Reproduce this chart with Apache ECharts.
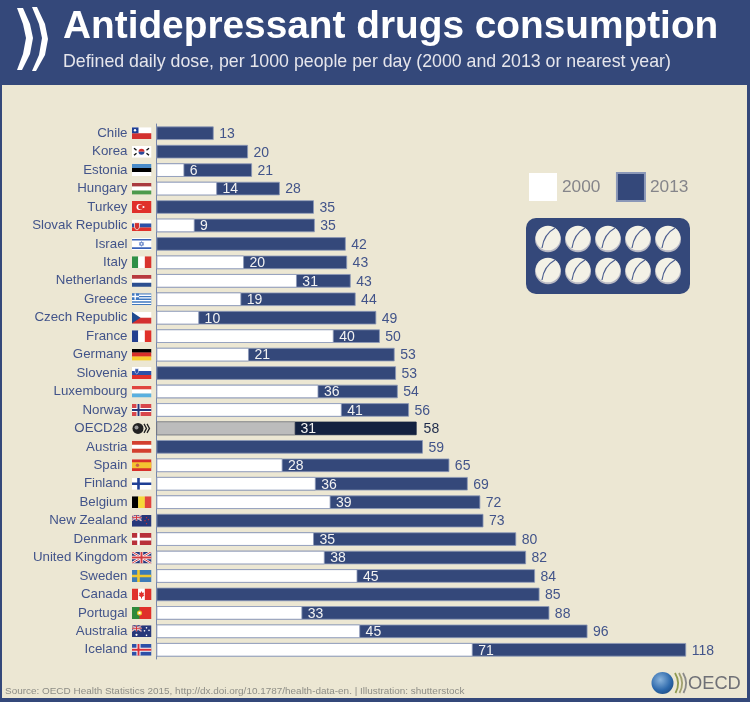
<!DOCTYPE html>
<html><head><meta charset="utf-8">
<style>html,body{margin:0;padding:0;background:#34487a}#c{width:750px;height:702px}</style>
<script src="https://cdn.jsdelivr.net/npm/echarts@6/dist/echarts.min.js"></script></head>
<body><div id="c"></div>
<script>
const categories=["Chile","Korea","Estonia","Hungary","Turkey","Slovak Republic","Israel","Italy","Netherlands","Greece","Czech Republic","France","Germany","Slovenia","Luxembourg","Norway","OECD28","Austria","Spain","Finland","Belgium","New Zealand","Denmark","United Kingdom","Sweden","Canada","Portugal","Australia","Iceland"];
const values2000=[null,null,6.2,13.5,null,8.5,null,19.5,31.3,18.9,9.5,39.5,20.6,null,36.1,41.3,30.9,null,28.1,35.5,38.8,null,35.1,37.5,44.8,null,32.5,45.4,70.5];
const values2013=[12.75,20.4,21.3,27.5,35.1,35.3,42.2,42.5,43.3,44.4,49,49.8,53.1,53.4,53.8,56.3,58,59.4,65.3,69.4,72.2,72.9,80.2,82.4,84.4,85.4,87.6,96.1,118.1];

const NAVY='#34487a',PANEL='#ece7d3',EDGE='#8b98b8',TXT='#42548a';
const hs=(...c)=>c.map((k,i)=>`<rect y="${12*i/c.length}" width="20" height="${12/c.length+.1}" fill="${k}"/>`).join('');
const vs=(...c)=>c.map((k,i)=>`<rect x="${20*i/c.length}" width="${20/c.length+.1}" height="12" fill="${k}"/>`).join('');
const nordic=(b,o,n)=>`<rect width="20" height="12" fill="${b}"/><path d="M0 6H20M7 0V12" stroke="${o}" stroke-width="${n?4:2.6}"/>`+(n?`<path d="M0 6H20M7 0V12" stroke="${n}" stroke-width="2"/>`:'');
const uk=`<rect width="20" height="12" fill="#27377a"/><path d="M0 0L20 12M20 0L0 12" stroke="#fff" stroke-width="2.4"/><path d="M0 0L20 12M20 0L0 12" stroke="#d23a3f" stroke-width="1"/><path d="M10 0V12M0 6H20" stroke="#fff" stroke-width="3.4"/><path d="M10 0V12M0 6H20" stroke="#d23a3f" stroke-width="2"/>`;
const stars=(p)=>p.map(a=>`<circle cx="${a[0]}" cy="${a[1]}" r="${a[2]||.8}" fill="${a[3]||'#fff'}"/>`).join('');
const oz=(s)=>`<rect width="20" height="12" fill="#27377a"/><g transform="scale(.5)">${uk}</g>`+s;
const flags={
"Chile":hs('#fff','#d3302f')+`<rect width="7" height="6" fill="#1f3f95"/><circle cx="3.5" cy="3" r="1.2" fill="#fff"/>`,
"Korea":`<rect width="20" height="12" fill="#fff"/><path d="M7 6a3 3 0 0 1 6 0z" fill="#d3302f"/><path d="M7 6a3 3 0 0 0 6 0z" fill="#2a4a9a"/><path d="M2.5 2.5L5 4.5M15 7.5L17.5 9.5M15 4.5L17.5 2.5M2.5 9.5L5 7.5" stroke="#111" stroke-width="1.4"/>`,
"Estonia":hs('#4a8bc8','#000','#fff'),
"Hungary":hs('#a93a3f','#fff','#4c9a4c'),
"Turkey":`<rect width="20" height="12" fill="#e0302a"/><circle cx="8" cy="6" r="3" fill="#fff"/><circle cx="9" cy="6" r="2.4" fill="#e0302a"/><circle cx="12" cy="6" r="1" fill="#fff"/>`,
"Slovak Republic":hs('#fff','#2c50a8','#e0302a')+`<path d="M3 3.2H8V7.5Q8 9.5 5.5 10.5 3 9.5 3 7.5z" fill="#d3302f" stroke="#fff" stroke-width=".7"/>`,
"Israel":`<rect width="20" height="12" fill="#fff"/><rect y="1" width="20" height="1.7" fill="#3a62b8"/><rect y="9.3" width="20" height="1.7" fill="#3a62b8"/><path d="M10 3.6L12.2 7.2H7.8zM10 8.4L7.8 4.8H12.2z" fill="none" stroke="#3a62b8" stroke-width=".6"/>`,
"Italy":vs('#2f9048','#fff','#d8342f'),
"Netherlands":hs('#b83a3f','#fff','#2c4f90'),
"Greece":`<rect width="20" height="12" fill="#3f78c0"/><path d="M0 2H20M0 4.7H20M0 7.4H20M0 10.1H20" stroke="#fff" stroke-width="1.3"/><rect width="7.5" height="6.5" fill="#3f78c0"/><path d="M3.7 0V6.5M0 3.2H7.5" stroke="#fff" stroke-width="1.4"/>`,
"Czech Republic":hs('#fff','#d3302f')+`<path d="M0 0L9 6L0 12z" fill="#1f4a90"/>`,
"France":vs('#25408f','#fff','#e0302a'),
"Germany":hs('#000','#d8302a','#f8ce2e'),
"Slovenia":hs('#fff','#2c50a8','#e0302a')+`<path d="M3.5 1.8H7V4.5Q7 6 5.25 6.8 3.5 6 3.5 4.5z" fill="#2c50a8" stroke="#fff" stroke-width=".5"/>`,
"Luxembourg":hs('#e0453f','#fff','#5ab0e0'),
"Norway":nordic('#d8474a','#fff','#27377a'),
"OECD28":`<circle cx="6.5" cy="6" r="5.5" fill="#222"/><circle cx="5" cy="5" r="2" fill="#999"/><path d="M12.5 1.5L15 6L12.5 10.5M15.5 1.5L18 6L15.5 10.5" fill="none" stroke="#222" stroke-width="1.3"/>`,
"Austria":hs('#d3402f','#fff','#d3402f'),
"Spain":`<rect width="20" height="12" fill="#d8302a"/><rect y="3" width="20" height="6" fill="#f4c430"/><circle cx="6" cy="6" r="1.7" fill="#c8604a"/>`,
"Finland":nordic('#fff','#1f3f95'),
"Belgium":vs('#000','#f5d83a','#e0453f'),
"New Zealand":oz(stars([[15,3,.7,'#d3302f'],[17,5,.7,'#d3302f'],[13.5,6,.7,'#d3302f'],[15,9,.7,'#d3302f']])),
"Denmark":nordic('#b8303a','#fff'),
"United Kingdom":uk,
"Sweden":nordic('#3c7cb8','#f0c82e'),
"Canada":vs('#e0302a','#fff','#e0302a')+`<path d="M10 2.5L11 4.5L12.5 4L12 6.5L13 7L10.5 8.5V10H9.5V8.5L7 7L8 6.5L7.5 4L9 4.5z" fill="#e0302a"/>`,
"Portugal":`<rect width="20" height="12" fill="#e0302a"/><rect width="8" height="12" fill="#2f8a3a"/><circle cx="8" cy="6" r="2.5" fill="#f0c82e"/><circle cx="8" cy="6" r="1.2" fill="#fff"/>`,
"Australia":oz(stars([[15,2.5],[17.5,5],[13,5.5],[15,10],[5,9.5,1.1]])),
"Iceland":`<rect width="20" height="12" fill="#2c50a8"/><path d="M0 6H20M7 0V12" stroke="#fff" stroke-width="4"/><path d="M0 6H20M7 0V12" stroke="#d8303a" stroke-width="2"/>`
};
const rich={n:{color:TXT,fontFamily:'Liberation Sans',fontSize:13.3,padding:[0,4,0,0]}};
categories.forEach((c,i)=>{
  const svg=`<svg xmlns="http://www.w3.org/2000/svg" width="60" height="36" viewBox="0 0 20 12">${flags[c]}</svg>`;
  rich['f'+i]={width:20,height:12,backgroundColor:{image:'data:image/svg+xml;charset=utf-8,'+encodeURIComponent(svg)}};
});
const OECD='OECD28';
const lab=(color,extra)=>Object.assign({show:true,position:'right',distance:5.5,offset:[0,1],color,fontFamily:'Liberation Sans',fontSize:14,formatter:p=>Math.round(p.value)},extra||{});
const pills=[];
const curve=(x1,y1,cx,cy,x2,y2,stroke,w)=>({type:'bezierCurve',shape:{x1,y1,x2,y2,cpx1:cx,cpy1:cy},style:{fill:null,stroke,lineWidth:w}});
[238,270].forEach(y=>[548,578,608,638,668].forEach(x=>{
  pills.push({type:'circle',shape:{cx:x,cy:y+1.3,r:13},style:{fill:'#b9b9c4'}});
  pills.push({type:'circle',shape:{cx:x,cy:y,r:12.3},style:{fill:'#f3f1e6'}});
  pills.push(curve(x-6,y+10,x-4,y-4,x+7,y-10,'#4d5f90',1.2));
}));
const graphic=[
 {type:'rect',z:-10,shape:{x:2,y:85,width:745,height:613},style:{fill:PANEL}},
 {type:'polygon',shape:{points:[[17,8],[23,8],[30,24],[33,38],[30,54],[22,70],[17,70],[23,54],[26,38],[23,24]]},style:{fill:'#fff'}},
 {type:'polygon',shape:{points:[[32,7],[37,7],[45,24],[48,39],[45,55],[36,71],[32,71],[39,55],[42,38],[39,24]]},style:{fill:'#fff'}},
 {type:'rect',shape:{x:526,y:218,width:164,height:76,r:10},style:{fill:NAVY}},
 ...pills,
 {type:'text',style:{x:5,y:686,text:'Source: OECD Health Statistics 2015, http://dx.doi.org/10.1787/health-data-en. | Illustration: shutterstock',fill:'#8d8d86',fontFamily:'Liberation Sans',fontSize:9.95}},
 {type:'circle',shape:{cx:662.5,cy:683,r:11},style:{fill:new echarts.graphic.RadialGradient(.4,.35,.8,[{offset:0,color:'#8ab4dc'},{offset:.6,color:'#2d69ac'},{offset:1,color:'#1a4478'}])}},
 curve(675,673,681,683,675.5,693,'#8f9a50',1.8),
 curve(679,673,685,683,679.5,693,'#a0a070',1.8),
 curve(683,673,689,683,683.5,693,'#8a8a8a',1.8),
 {type:'text',style:{x:688,y:675,text:'OECD',fill:'#6f7076',fontFamily:'Liberation Sans',fontSize:18.3}}
];
const chart=echarts.init(document.getElementById('c'));
chart.setOption({
 animation:false,backgroundColor:NAVY,
 title:{left:58,top:3,text:'Antidepressant drugs consumption',subtext:'Defined daily dose, per 1000 people per day (2000 and 2013 or nearest year)',itemGap:6,
  textStyle:{color:'#fff',fontFamily:'Liberation Sans',fontWeight:'bold',fontSize:38.8},
  subtextStyle:{color:'#e6e6ec',fontFamily:'Liberation Sans',fontSize:17.75}},
 legend:{left:524,top:167,itemWidth:28,itemHeight:28,itemGap:15.5,selectedMode:false,icon:'rect',
  data:[{name:'2000',itemStyle:{borderWidth:0}},{name:'2013'}],
  textStyle:{color:'#85858a',fontFamily:'Liberation Sans',fontSize:17.3}},
 grid:{left:156.5,top:124,width:583,height:535},
 xAxis:{type:'value',min:0,max:130,show:false},
 yAxis:{type:'category',inverse:true,data:categories,
  axisTick:{show:false},axisLine:{lineStyle:{color:'#7787ad',width:1}},
  axisLabel:{margin:5,formatter:(v,i)=>`{n|${v}}{f${i}|}`,rich}},
 series:[
  {name:'2013',type:'bar',barWidth:13.5,barGap:'-100%',itemStyle:{color:NAVY,borderColor:EDGE,borderWidth:.8},
   label:lab(TXT),
   data:values2013.map((v,i)=>categories[i]===OECD?{value:v,itemStyle:{color:'#13213f',borderColor:'#13213f'},label:{color:'#1d2a4a',distance:7}}:v)},
  {name:'2000',type:'bar',barWidth:13.5,itemStyle:{color:'#fff',borderColor:EDGE,borderWidth:.8},
   label:lab('#f2f2f2'),
   data:values2000.map((v,i)=>categories[i]===OECD?{value:v,itemStyle:{color:'#bcbcbc',borderColor:'#9a9a9a'}}:v)}
 ],
 graphic
});
</script></body></html>
